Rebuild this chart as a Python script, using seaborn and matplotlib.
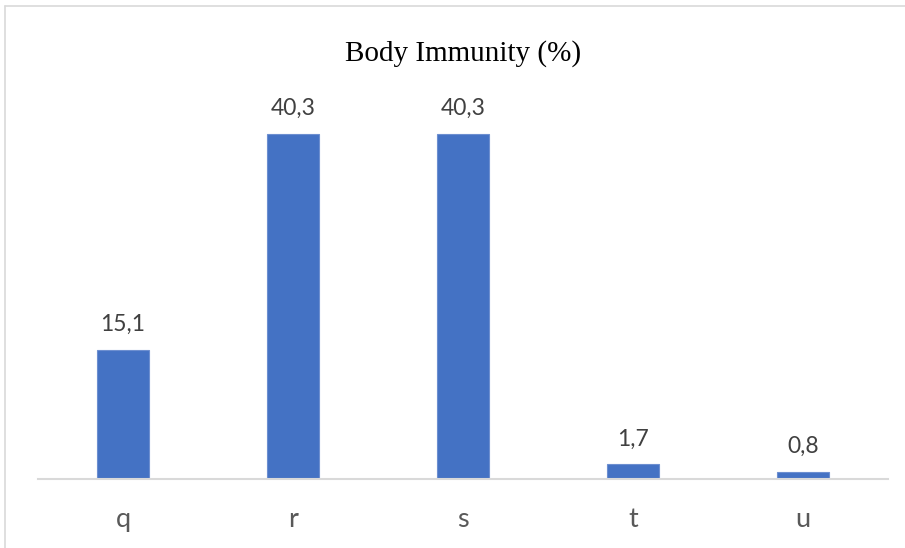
import matplotlib
matplotlib.use("Agg")
import matplotlib.pyplot as plt
import seaborn as sns
import pandas as pd
from matplotlib.lines import Line2D

categories = ["q", "r", "s", "t", "u"]
values = [15.1, 40.3, 40.3, 1.7, 0.8]
value_labels = ["15,1", "40,3", "40,3", "1,7", "0,8"]
title = "Body Immunity (%)"

sns.set_theme(style="white")
plt.rcParams["font.family"] = ["Lato", "DejaVu Sans"]

W, H = 905, 548
fig = plt.figure(figsize=(W / 100, H / 100), dpi=100)
ax_left, ax_right = 38, 888
ax_bottom, ax_top = 479, 94
ax = fig.add_axes([ax_left / W, (H - ax_bottom) / H,
                   (ax_right - ax_left) / W, (ax_bottom - ax_top) / H])

df = pd.DataFrame({"cat": categories, "val": values})
sns.barplot(data=df, x="cat", y="val", ax=ax, color="#4472C4",
            saturation=1, width=0.31, edgecolor="#6d8fd0", linewidth=0.8)

ax.set_ylim(0, 45)
ax.set_xlim(-0.5, len(categories) - 0.5)
ax.set_xlabel("")
ax.set_ylabel("")
ax.set_yticks([])
for side in ["left", "right", "top"]:
    ax.spines[side].set_visible(False)
ax.spines["bottom"].set_color("#d9d9d9")
ax.spines["bottom"].set_linewidth(1.5)
ax.tick_params(axis="x", length=0, pad=48 * 0.72, labelsize=19.5, labelcolor="#595959")
for lab in ax.get_xticklabels():
    lab.set_verticalalignment("baseline")

for i, (v, lab) in enumerate(zip(values, value_labels)):
    ax.annotate(lab, (i, v), xytext=(0, 19 * 0.72), textcoords="offset points",
                ha="center", va="baseline", fontsize=16.5, color="#404040")

fig.text(463 / W, 1 - 61 / H, title, ha="center", va="baseline",
         fontsize=21, family="Liberation Serif", color="black")

# chart frame
fig.add_artist(Line2D([5 / W, 1.0], [1 - 6 / H, 1 - 6 / H],
                      transform=fig.transFigure, color="#d9d9d9", linewidth=1.2))
fig.add_artist(Line2D([5 / W, 5 / W], [0, 1 - 6 / H],
                      transform=fig.transFigure, color="#d9d9d9", linewidth=1.2))

fig.savefig("out.png", dpi=100, facecolor="white")
